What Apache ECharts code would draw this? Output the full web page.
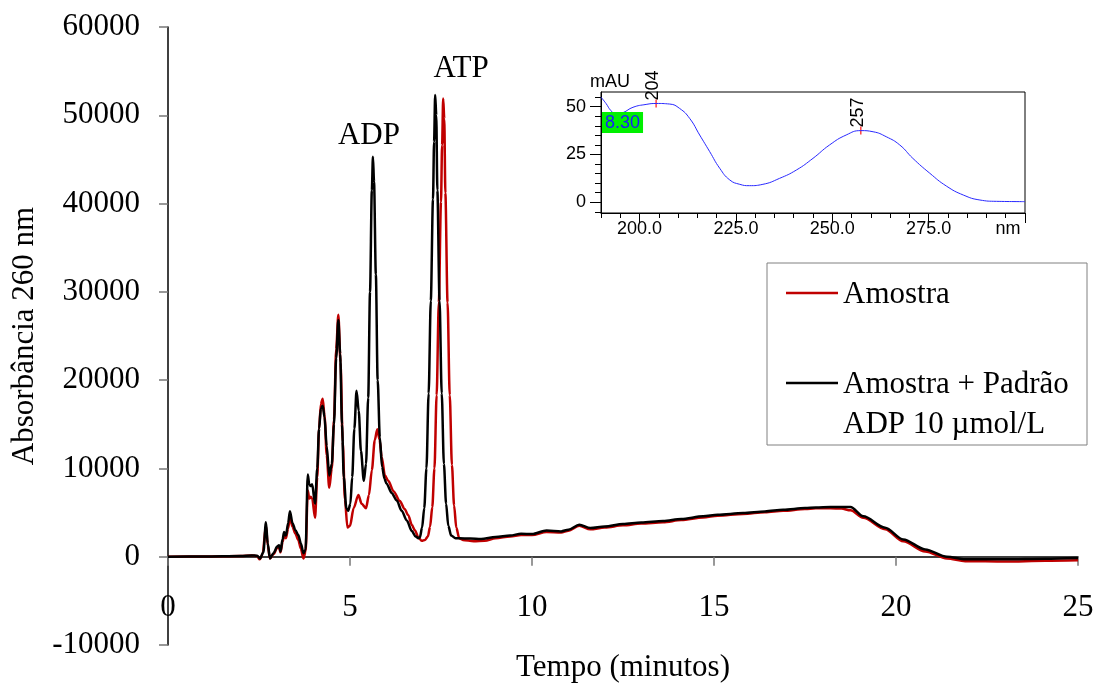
<!DOCTYPE html>
<html>
<head>
<meta charset="utf-8">
<script src="https://cdn.jsdelivr.net/npm/echarts@6/dist/echarts.min.js"></script>
<style>
html,body{margin:0;padding:0;background:#fff;}
#chart{width:1095px;height:687px;}
</style>
</head>
<body>
<div id="chart"></div>
<script>
// ---- Main chromatogram data: [tempo (min), absorbância] ----
const amostraData = [
  [0,0],[1,20],[2,80],[2.3,140],[2.45,60],[2.52,-300],[2.6,300],[2.69,3500],[2.74,1300],[2.8,-200],
  [2.9,300],[3.0,1000],[3.05,1100],[3.09,500],[3.15,1700],[3.19,2400],[3.24,2100],[3.3,3200],
  [3.35,4500],[3.42,3400],[3.5,2600],[3.58,1900],[3.65,900],[3.72,-200],[3.78,600],[3.84,7500],
  [3.88,6600],[3.92,6800],[3.96,6600],[4.04,4400],[4.1,9000],[4.15,14500],[4.2,17300],[4.25,17900],
  [4.3,16000],[4.36,11500],[4.43,7800],[4.5,10000],[4.56,15500],[4.62,23500],[4.68,27400],
  [4.74,22000],[4.8,13000],[4.86,6500],[4.93,3300],[5.0,3500],[5.1,5500],[5.23,7000],[5.32,6000],
  [5.44,5500],[5.52,7000],[5.6,9800],[5.68,13200],[5.75,14450],[5.81,13300],[5.87,11300],
  [5.96,9200],[6.05,8600],[6.2,7400],[6.37,6300],[6.5,5400],[6.6,4700],[6.7,3600],[6.78,3000],
  [6.88,2200],[6.97,1800],[7.06,1900],[7.14,2300],[7.2,3400],[7.26,5600],[7.32,10000],
  [7.38,18300],[7.44,28800],[7.5,40200],[7.53,46600],[7.56,51900],[7.59,49600],[7.62,41200],
  [7.68,28800],[7.74,18300],[7.8,10400],[7.86,5800],[7.92,3300],[8.0,2100],[8.1,1900],[8.4,1750],
  [8.7,1800],[9.0,2100],[9.4,2300],[9.7,2450],[10.0,2450],[10.4,2800],[10.8,2750],[11.0,2950],
  [11.3,3500],[11.6,3100],[12.0,3300],[12.5,3550],[13.0,3750],[13.6,3900],[14.1,4150],[14.7,4450],
  [15.1,4650],[15.8,4850],[16.4,5050],[16.9,5200],[17.5,5400],[17.8,5480],[18.2,5500],[18.5,5450],
  [18.75,5250],[19.1,4400],[19.7,3100],[20.2,1750],[20.8,600],[21.4,-200],[21.9,-500],[23.0,-550],
  [24.1,-450],[25,-400]
];
const padraoData = [
  [0,0],[1,20],[2,80],[2.3,150],[2.45,100],[2.53,-200],[2.62,500],[2.69,3900],[2.74,1500],[2.8,-200],
  [2.9,400],[3.0,1150],[3.05,1300],[3.09,600],[3.15,2000],[3.19,2800],[3.24,2400],[3.3,3800],
  [3.35,5150],[3.42,3800],[3.5,3000],[3.58,2450],[3.65,1500],[3.72,400],[3.78,800],[3.84,9300],
  [3.88,8200],[3.92,8000],[3.96,8200],[4.04,6000],[4.1,10000],[4.15,14500],[4.2,16800],[4.25,17100],
  [4.3,15800],[4.36,12500],[4.43,9200],[4.5,10500],[4.56,15000],[4.62,22500],[4.68,26800],
  [4.73,23000],[4.78,15000],[4.83,9000],[4.9,5500],[4.95,5200],[5.01,6000],[5.06,9000],[5.12,14500],
  [5.18,18800],[5.24,16500],[5.3,12000],[5.38,8600],[5.44,10500],[5.5,18000],[5.55,30000],
  [5.6,41500],[5.63,45300],[5.66,42500],[5.71,32000],[5.76,20000],[5.82,13500],[5.88,10200],
  [5.95,8800],[6.0,8300],[6.15,7200],[6.28,6400],[6.42,5200],[6.56,4100],[6.7,2900],[6.8,2300],
  [6.88,2100],[6.92,2200],[6.98,3300],[7.04,5500],[7.1,10000],[7.16,18500],[7.22,29000],
  [7.28,40500],[7.31,47000],[7.34,52300],[7.37,50000],[7.4,41500],[7.46,29000],[7.52,18500],
  [7.58,10500],[7.64,6000],[7.7,3500],[7.78,2400],[7.9,2100],[8.0,2100],[8.3,2050],[8.6,2000],
  [9.0,2230],[9.4,2400],[9.7,2600],[10.0,2560],[10.4,2980],[10.8,2870],[11.0,3060],[11.3,3620],
  [11.6,3240],[12.0,3430],[12.5,3700],[13.0,3880],[13.6,4040],[14.1,4260],[14.7,4570],[15.1,4750],
  [15.8,4940],[16.4,5130],[16.9,5320],[17.5,5510],[17.8,5580],[18.2,5620],[18.75,5620],[19.1,4570],
  [19.7,3280],[20.2,1960],[20.8,830],[21.4,0],[21.9,-300],[23.0,-300],[24.1,-230],[25,-150]
];
// ---- Peak labels ----
const peakLabels = [
  {name: 'ADP', coord: [5.63, 45300]},
  {name: 'ATP', coord: [7.34, 52300]}
];
// ---- Inset UV spectrum: [nm, mAU] ----
const espectroData = [
  [190,55.0],[191.3,51.7],[192.6,47.9],[193.9,46.2],[195.7,46.9],[198.3,49.7],[201.7,51.2],
  [204.3,51.7],[207.8,51.4],[210.4,49.1],[213,43.9],[215.6,35.2],[218.2,26.5],[220.8,17.8],
  [223.4,11.7],[226,9.4],[228.5,8.7],[232,9.4],[236.3,12.5],[240.7,16.9],[245,23.0],[249.3,30.0],
  [253.6,35.2],[257.4,37.5],[260.6,36.9],[264,34.3],[267.5,30.0],[270.9,23.0],[275.3,15.2],
  [279.6,8.5],[284,3.8],[288.3,1.2],[292.6,0.5],[300,0.35]
];
const espectroPeaks = [
  {name: '204', coord: [204.3, 51.7]},
  {name: '257', coord: [257.4, 37.5]}
];
const insetXMajor = [200, 225, 250, 275, 300];
const insetXMinor = [190,195,205,210,215,220,230,235,240,245,255,260,265,270,280,285,290,295];
const insetYMajor = [0, 25, 50];
const insetYMinor = [-5,5,10,15,20,30,35,40,45,55];
const retentionLabel = '8.30';

const serif = 'Liberation Serif, Times New Roman, serif';
const sans = 'Liberation Sans, Arial, sans-serif';

const chart = echarts.init(document.getElementById('chart'), null, {renderer: 'canvas'});
const option = {
  animation: false,
  backgroundColor: '#ffffff',
  grid: [
    {left: 168, top: 27, right: 17, bottom: 42, containLabel: false, outerBoundsMode: 'none'},
    {left: 601, top: 92, width: 424, height: 121, show: true, borderColor: '#000', borderWidth: 1,
     backgroundColor: '#fff', containLabel: false, outerBoundsMode: 'none'}
  ],
  xAxis: [
    {
      type: 'value', gridIndex: 0, min: 0, max: 25, interval: 5,
      name: 'Tempo (minutos)', nameLocation: 'middle', nameGap: 7,
      nameTextStyle: {fontFamily: serif, fontSize: 31, color: '#000'},
      axisLine: {onZero: true, lineStyle: {color: '#000', width: 1.5}},
      axisTick: {show: true, inside: false, length: 9, lineStyle: {color: '#777', width: 1.5}},
      axisLabel: {fontFamily: serif, fontSize: 31, color: '#000', margin: -53},
      splitLine: {show: false}
    },
    {
      type: 'value', gridIndex: 1, min: 190, max: 300, position: 'bottom',
      axisLine: {show: true, onZero: false, lineStyle: {color: '#000', width: 1}},
      axisTick: {show: true, length: 10, customValues: insetXMajor, lineStyle: {color: '#000'}},
      axisLabel: {
        fontFamily: sans, fontSize: 18, color: '#000', margin: 7,
        customValues: insetXMajor,
        formatter: function (v) { return v === 300 ? '{n|nm}' : v.toFixed(1); },
        rich: {n: {fontFamily: sans, fontSize: 18, color: '#000', padding: [0, 34, 0, 0]}}
      },
      splitLine: {show: false}
    },
    {
      type: 'value', gridIndex: 1, min: 190, max: 300, position: 'bottom',
      axisLine: {show: false, onZero: false},
      axisTick: {show: true, length: 5, customValues: insetXMinor, lineStyle: {color: '#000'}},
      axisLabel: {show: false},
      splitLine: {show: false}
    }
  ],
  yAxis: [
    {
      type: 'value', gridIndex: 0, min: -10000, max: 60000, interval: 10000,
      name: 'Absorbância 260 nm', nameLocation: 'middle', nameGap: 128,
      nameTextStyle: {fontFamily: serif, fontSize: 31, color: '#000'},
      axisLine: {show: true, onZero: false, lineStyle: {color: '#000', width: 1.5}},
      axisTick: {show: true, length: 9, lineStyle: {color: '#777', width: 1.5}},
      axisLabel: {fontFamily: serif, fontSize: 31, color: '#000', margin: 28,
                  formatter: function (v) { return String(v); }},
      splitLine: {show: false}
    },
    {
      type: 'value', gridIndex: 1, min: -5.6, max: 57.7, position: 'left',
      name: 'mAU', nameLocation: 'end', nameGap: 1,
      nameTextStyle: {fontFamily: sans, fontSize: 18, color: '#000', padding: [0, 0, 0, 18]},
      axisLine: {show: true, onZero: false, lineStyle: {color: '#000', width: 1}},
      axisTick: {show: true, length: 11, customValues: insetYMajor, lineStyle: {color: '#000'}},
      axisLabel: {fontFamily: sans, fontSize: 18, color: '#000', margin: 15, customValues: insetYMajor},
      splitLine: {show: false}
    },
    {
      type: 'value', gridIndex: 1, min: -5.6, max: 57.7, position: 'left',
      axisLine: {show: false, onZero: false},
      axisTick: {show: true, length: 6, customValues: insetYMinor, lineStyle: {color: '#000'}},
      axisLabel: {show: false},
      splitLine: {show: false}
    }
  ],
  series: [
    {
      name: 'Amostra', type: 'line', xAxisIndex: 0, yAxisIndex: 0,
      data: amostraData, showSymbol: false, smooth: 0.3, smoothMonotone: 'x',
      lineStyle: {color: '#c00000', width: 2.5}, itemStyle: {color: '#c00000'}, z: 2
    },
    {
      name: 'Amostra + Padrão ADP 10 µmol/L', type: 'line', xAxisIndex: 0, yAxisIndex: 0,
      data: padraoData, showSymbol: false, smooth: 0.3, smoothMonotone: 'x',
      lineStyle: {color: '#000000', width: 2.5}, itemStyle: {color: '#000'}, z: 3,
      markPoint: {
        symbol: 'circle', symbolSize: 0, silent: true,
        itemStyle: {color: 'rgba(0,0,0,0)'},
        data: peakLabels.map(function (p, i) {
          return {
            name: p.name, coord: p.coord,
            label: {
              show: true, position: 'inside', formatter: p.name,
              offset: i === 0 ? [-4, -21] : [26, -26],
              fontFamily: serif, fontSize: 31, color: '#000'
            }
          };
        })
      }
    },
    {
      name: 'Espectro', type: 'line', xAxisIndex: 1, yAxisIndex: 1,
      data: espectroData, showSymbol: false, smooth: 0.5,
      lineStyle: {color: '#2828ff', width: 1}, itemStyle: {color: '#2828ff'}, z: 5,
      markPoint: {
        symbol: 'rect', symbolSize: [1.5, 8], silent: true,
        itemStyle: {color: '#ff4040'},
        data: espectroPeaks.map(function (p) {
          return {
            name: p.name, coord: p.coord,
            label: {
              show: true, position: 'inside', formatter: p.name, rotate: 90,
              align: 'left', verticalAlign: 'middle', offset: [3, -3],
              fontFamily: sans, fontSize: 18, color: '#000'
            }
          };
        })
      }
    }
  ],
  graphic: [
    {
      type: 'text', left: 602, top: 112, z: 20,
      style: {
        text: retentionLabel, fontFamily: sans, fontSize: 18, fill: '#1a1aff',
        backgroundColor: '#00f000', padding: [2, 3, 1, 3]
      }
    },
    {
      type: 'group', z: 20,
      children: [
        {type: 'rect', shape: {x: 767, y: 263, width: 320, height: 182},
         style: {fill: '#fff', stroke: '#808080', lineWidth: 1}},
        {type: 'line', shape: {x1: 786, y1: 293, x2: 838, y2: 293},
         style: {stroke: '#c00000', lineWidth: 2.5}},
        {type: 'text', x: 843, y: 295,
         style: {text: 'Amostra', fontFamily: serif, fontSize: 31, fill: '#000', verticalAlign: 'middle'}},
        {type: 'line', shape: {x1: 786, y1: 383, x2: 838, y2: 383},
         style: {stroke: '#000', lineWidth: 2.5}},
        {type: 'text', x: 843, y: 385,
         style: {text: 'Amostra + Padrão', fontFamily: serif, fontSize: 31, fill: '#000', verticalAlign: 'middle'}},
        {type: 'text', x: 843, y: 425,
         style: {text: 'ADP 10 µmol/L', fontFamily: serif, fontSize: 31, fill: '#000', verticalAlign: 'middle'}}
      ]
    }
  ]
};
chart.setOption(option);
</script>
</body>
</html>
